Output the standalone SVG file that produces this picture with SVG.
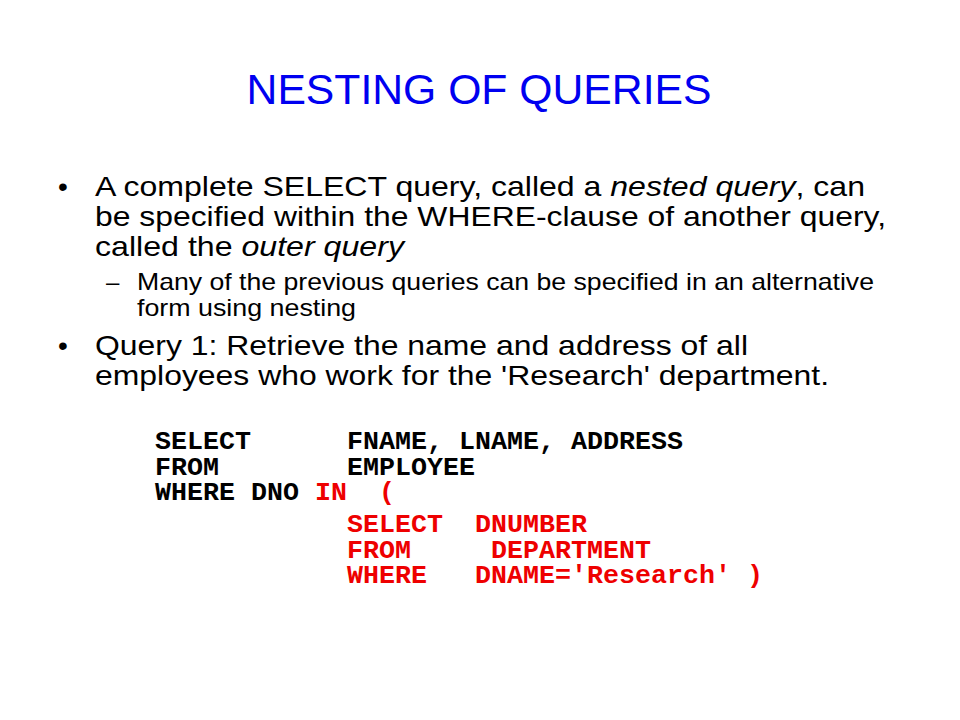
<svg xmlns="http://www.w3.org/2000/svg" width="960" height="720" viewBox="0 0 960 720">
<style>
.title{font-family:"Liberation Sans",Arial,sans-serif;font-size:42.7px;fill:#0000F0;text-anchor:middle}
.b{font-family:"Liberation Sans",Arial,sans-serif;font-size:28px;fill:#000}
.s{font-family:"Liberation Sans",Arial,sans-serif;font-size:24px;fill:#000}
.i{font-style:italic}
.code{font-family:"Liberation Mono","Courier New",monospace;font-size:26.67px;font-weight:bold;fill:#000}
.red{fill:#EE0000}
</style>
<rect width="960" height="720" fill="#FFFFFF"/>
<g id="title">
<text class="title" x="479" y="104">NESTING OF QUERIES</text>
</g>
<g id="bullets">
<text class="b" x="58" y="196">•</text>
<text class="b" x="95" y="196" textLength="770" lengthAdjust="spacingAndGlyphs">A complete SELECT query, called a <tspan class="i">nested query</tspan>, can</text>
<text class="b" x="95" y="226" textLength="791" lengthAdjust="spacingAndGlyphs">be specified within the WHERE-clause of another query,</text>
<text class="b" x="95" y="256" textLength="309" lengthAdjust="spacingAndGlyphs">called the <tspan class="i">outer query</tspan></text>
<text class="s" x="106" y="290">–</text>
<text class="s" x="137" y="290" textLength="737" lengthAdjust="spacingAndGlyphs">Many of the previous queries can be specified in an alternative</text>
<text class="s" x="137" y="316" textLength="219" lengthAdjust="spacingAndGlyphs">form using nesting</text>
<text class="b" x="58" y="355">•</text>
<text class="b" x="95" y="355" textLength="653" lengthAdjust="spacingAndGlyphs">Query 1: Retrieve the name and address of all</text>
<text class="b" x="95" y="385" textLength="734" lengthAdjust="spacingAndGlyphs">employees who work for the 'Research' department.</text>
</g>
<g id="query">
<text class="code" y="449"><tspan x="155">SELECT</tspan><tspan x="347">FNAME, LNAME, ADDRESS</tspan></text>
<text class="code" y="475"><tspan x="155">FROM</tspan><tspan x="347">EMPLOYEE</tspan></text>
<text class="code" y="500"><tspan x="155">WHERE DNO</tspan><tspan x="315" class="red">IN</tspan><tspan x="379" class="red">(</tspan></text>
<text class="code red" y="532"><tspan x="347">SELECT</tspan><tspan x="475">DNUMBER</tspan></text>
<text class="code red" y="558"><tspan x="347">FROM</tspan><tspan x="491">DEPARTMENT</tspan></text>
<text class="code red" y="583"><tspan x="347">WHERE</tspan><tspan x="475">DNAME='Research'</tspan><tspan x="747">)</tspan></text>
</g>
</svg>
